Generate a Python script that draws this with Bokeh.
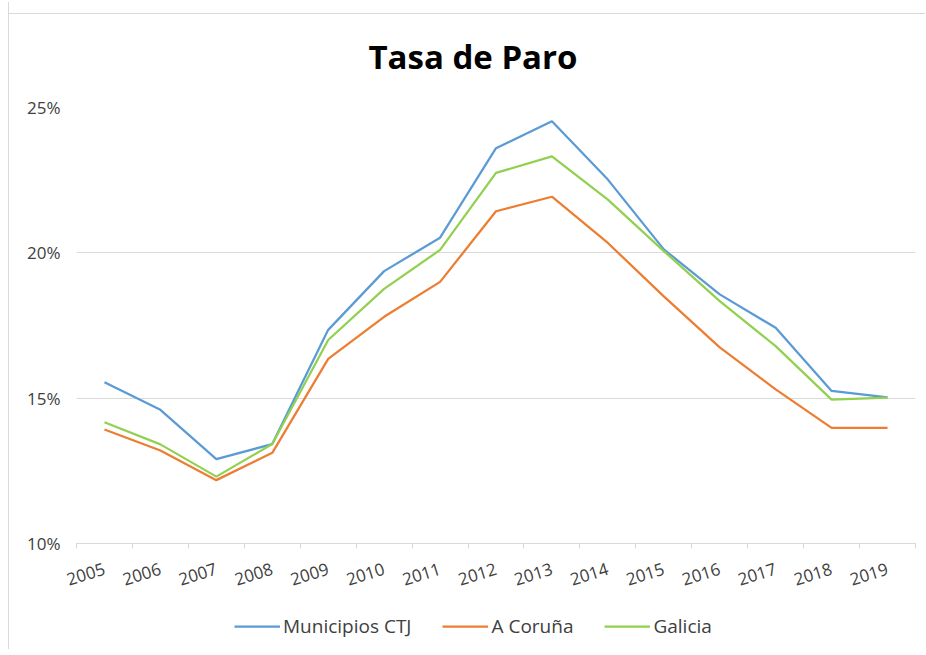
from bokeh.plotting import figure
from bokeh.layouts import column
from bokeh.models import FixedTicker, Legend, LegendItem, Range1d, LinearAxis
from bokeh.embed import file_html
from bokeh.resources import INLINE

years = ["2005", "2006", "2007", "2008", "2009", "2010", "2011", "2012",
         "2013", "2014", "2015", "2016", "2017", "2018", "2019"]
municipios_ctj = [15.55, 14.6, 12.9, 13.42, 17.35, 19.37, 20.52, 23.6,
                  24.53, 22.52, 20.12, 18.57, 17.42, 15.25, 15.03]
a_coruna = [13.92, 13.2, 12.18, 13.12, 16.35, 17.8, 19.0, 21.43,
            21.93, 20.34, 18.5, 16.75, 15.3, 13.98, 13.98]
galicia = [14.17, 13.41, 12.3, 13.42, 17.0, 18.76, 20.1, 22.75,
           23.32, 21.83, 20.06, 18.34, 16.79, 14.95, 15.02]
y_ticks = [10, 15, 20, 25]
series_names = ["Municipios CTJ", "A Coruña", "Galicia"]
colors = ["#5B9BD5", "#ED7D31", "#92D050"]

FONT = "Open Sans"
xs = list(range(len(years)))

p = figure(frame_width=839, frame_height=436,
           min_border_left=67, min_border_right=10,
           min_border_top=105, min_border_bottom=56,
           output_backend="svg", toolbar_location=None,
           x_range=Range1d(-0.5, len(years) - 0.5), y_range=Range1d(10, 25),
           x_axis_location=None)
p.outline_line_color = None
p.background_fill_color = "white"
p.border_fill_alpha = 0

# title
p.title.text = "Tasa de Paro"
p.title.align = "left"
p.title.offset = 292
p.title.text_font = FONT
p.title.text_font_style = "bold"
p.title.text_font_size = "33px"
p.title.text_color = "#000000"
p.title.standoff = 58

# x axis
xaxis = LinearAxis()
xaxis.ticker = FixedTicker(ticks=xs, minor_ticks=[i - 0.5 for i in range(len(years) + 1)])
xaxis.major_label_overrides = {i: y for i, y in enumerate(years)}
xaxis.major_tick_line_color = None
xaxis.major_tick_in = 0
xaxis.major_tick_out = 0
xaxis.minor_tick_line_color = "#d9d9d9"
xaxis.minor_tick_in = 0
xaxis.minor_tick_out = 5
xaxis.axis_line_color = "#d9d9d9"
xaxis.axis_line_width = 1
xaxis.major_label_orientation = 0.3
xaxis.major_label_text_font = FONT
xaxis.major_label_text_font_size = "17px"
xaxis.major_label_text_color = "#404040"
xaxis.major_label_standoff = 20
p.add_layout(xaxis, "below")

# y axis
p.yaxis.ticker = FixedTicker(ticks=y_ticks)
p.yaxis.major_label_overrides = {t: f"{t}%" for t in y_ticks}
p.yaxis.axis_line_color = None
p.yaxis.major_tick_line_color = None
p.yaxis.major_tick_in = 0
p.yaxis.major_tick_out = 0
p.yaxis.minor_tick_line_color = None
p.yaxis.major_label_standoff = 16
p.yaxis.major_label_text_font = FONT
p.yaxis.major_label_text_font_size = "17px"
p.yaxis.major_label_text_color = "#404040"

p.xgrid.grid_line_color = None
p.ygrid.ticker = FixedTicker(ticks=y_ticks)
p.ygrid.grid_line_color = "#d9d9d9"
p.ygrid.grid_line_width = 1

# legend in its own strip below the chart
lp = figure(width=916, height=50, min_border=0,
            output_backend="svg", toolbar_location=None,
            x_axis_location=None, y_axis_location=None,
            x_range=Range1d(0, 1), y_range=Range1d(0, 1))
lp.outline_line_color = None
lp.background_fill_alpha = 0
lp.border_fill_alpha = 0
lp.xgrid.grid_line_color = None
lp.ygrid.grid_line_color = None

items = []
for name, vals, col in zip(series_names, [municipios_ctj, a_coruna, galicia], colors):
    p.line(xs, vals, line_color=col, line_width=2.25)
    # legend-only twin, kept outside the strip's visible range
    r = lp.line([-5, -4], [-5, -5], line_color=col, line_width=2.25)
    items.append(LegendItem(label=name, renderers=[r]))

legend = Legend(items=items, orientation="horizontal", location=(158, 10),
                glyph_width=46, glyph_height=20, label_standoff=3, spacing=31,
                padding=5, margin=0, border_line_color=None,
                background_fill_alpha=0,
                label_text_font=FONT, label_text_font_size="19px",
                label_text_color="#404040")
lp.add_layout(legend)

layout = column(p, lp, spacing=0,
                styles={"border-left": "1px solid #d9d9d9",
                        "margin-top": "2px", "margin-left": "8px",
                        "background": "linear-gradient(#d9d9d9, #d9d9d9) 0px 11px / 100% 1px no-repeat, white"})

open("out.html", "w").write(file_html(layout, INLINE))
